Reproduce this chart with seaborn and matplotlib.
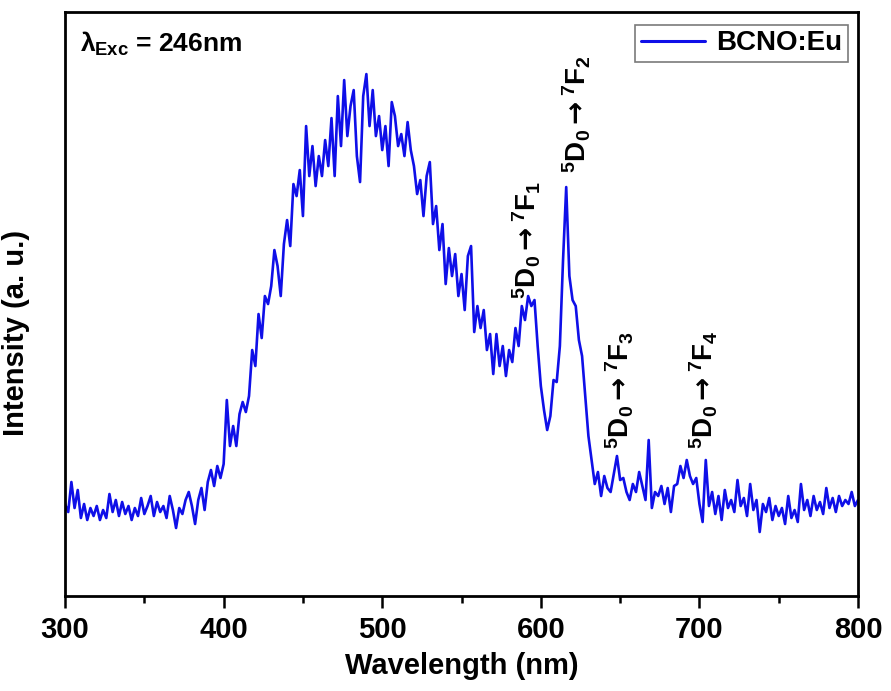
"""
BCNO:Eu photoluminescence emission spectrum (excitation 246 nm).
"""

import numpy as np
import pandas as pd
import matplotlib
matplotlib.use("Agg")
import matplotlib.pyplot as plt
import seaborn as sns

# ── Data (2 nm steps, 300–800 nm) ────────────────────────────────────────────
wavelength = list(range(300, 802, 2))

intensity = [
    # 300–390 baseline
    92, 84, 114, 88, 106, 78, 92, 76, 88, 80,
    90, 76, 86, 78, 102, 84, 96, 80, 94, 82,
    90, 76, 88, 80, 98, 82, 90, 100, 80, 94,
    84, 90, 78, 100, 86, 68, 88, 82, 96, 104,
    90, 72, 96, 108, 86, 114,
    # 392–490 rising edge and broad band maximum
    126, 110, 130, 118, 132, 196, 150, 170, 150, 182,
    194, 184, 200, 246, 230, 282, 258, 300, 292, 310,
    346, 330, 300, 352, 376, 350, 412, 400, 426, 380,
    470, 420, 450, 410, 440, 420, 456, 430, 478, 420,
    500, 450, 516, 460, 490, 506, 440, 414, 500, 522,
    # 492–590 falling side of the band, 5D0-7F1
    470, 506, 460, 480, 446, 470, 430, 494, 480, 450,
    462, 440, 474, 446, 430, 402, 416, 380, 420, 434,
    372, 390, 346, 372, 312, 348, 320, 342, 300, 322,
    286, 340, 350, 264, 290, 268, 286, 246, 262, 222,
    262, 230, 250, 220, 246, 234, 268, 250, 290, 276,
    # 592–690 5D0-7F2 peak and tail
    300, 290, 296, 250, 210, 186, 166, 180, 216, 214,
    250, 336, 409, 320, 296, 290, 256, 240, 200, 160,
    136, 112, 124, 100, 120, 108, 104, 122, 140, 116,
    118, 104, 96, 112, 104, 124, 110, 96, 156, 88,
    104, 100, 110, 92, 108, 84, 110, 112, 130, 118,
    # 692–800 5D0-7F4 and baseline
    136, 120, 112, 118, 92, 74, 136, 90, 104, 82,
    100, 76, 106, 88, 96, 84, 116, 90, 98, 80,
    112, 86, 96, 64, 92, 84, 98, 76, 90, 80,
    88, 72, 100, 78, 86, 74, 112, 86, 96, 80,
    100, 86, 94, 82, 108, 88, 98, 84, 100, 90,
    96, 92, 104, 90, 96,
]

# transition labels and the (wavelength, intensity) where each is centred
ARROW = r"\mathsf{\rightarrow}"
transitions = [r"$^{5}\mathrm{D}_{0}" + ARROW + r"^{7}\mathrm{F}_{%d}$" % k
               for k in (1, 2, 3, 4)]
label_x = [591, 623, 650, 703]
label_y = [356, 482, 206, 206]

df = pd.DataFrame({"wavelength": wavelength, "intensity": intensity})

# ── Style ────────────────────────────────────────────────────────────────────
sns.set_style("white")
plt.rcParams["font.family"] = ["Liberation Sans", "DejaVu Sans"]
plt.rcParams["font.weight"] = "bold"
plt.rcParams["text.color"] = "black"
plt.rcParams["axes.labelcolor"] = "black"
plt.rcParams["xtick.color"] = "black"
plt.rcParams["mathtext.fontset"] = "custom"
plt.rcParams["mathtext.rm"] = "Liberation Sans:bold"
plt.rcParams["mathtext.it"] = "Liberation Sans:bold"
plt.rcParams["mathtext.bf"] = "Liberation Sans:bold"
plt.rcParams["mathtext.sf"] = "DejaVu Sans"

BLUE = "#0f0fe8"

fig = plt.figure(figsize=(8.91, 6.91), dpi=100)
ax = fig.add_axes([0.073, 0.1375, 0.890, 0.845])

sns.lineplot(data=df, x="wavelength", y="intensity", ax=ax, color=BLUE,
             linewidth=1.9, label="BCNO:Eu")

ax.set_xlim(300, 800)
ax.set_ylim(0, 584)
ax.set_xticks(range(300, 801, 100))
ax.set_xticks(range(350, 800, 100), minor=True)
ax.set_yticks([])
ax.tick_params(axis="x", which="major", direction="out", length=8.5,
               width=1.8, labelsize=21, pad=6, bottom=True, colors="black")
ax.tick_params(axis="x", which="minor", direction="out", length=5,
               width=1.8, bottom=True, colors="black")
for lab in ax.get_xticklabels():
    lab.set_fontweight("bold")

for s in ax.spines.values():
    s.set_visible(True)
    s.set_linewidth(2)
    s.set_color("black")

ax.set_xlabel("Wavelength (nm)", fontsize=21, fontweight="bold", labelpad=6)
ax.set_ylabel("Intensity (a. u.)", fontsize=21, fontweight="bold")
ax.yaxis.set_label_coords(-0.044, 0.45)

# excitation wavelength note
ax.text(0.019, 0.932, r"$\lambda_{\mathrm{Exc}}$ = 246nm", transform=ax.transAxes,
        fontsize=19, fontweight="bold", ha="left", va="baseline")

# transition annotations
for txt, x, y in zip(transitions, label_x, label_y):
    ax.text(x, y, txt, rotation=90, fontsize=20, ha="center", va="center")

leg = ax.legend(loc="upper right", bbox_to_anchor=(0.987, 0.978),
                borderaxespad=0, fancybox=False, framealpha=1,
                edgecolor="#7a7a7a", borderpad=0.2, handlelength=2.3,
                handletextpad=0.4, prop={"size": 20, "weight": "bold"})
leg.get_frame().set_linewidth(1.2)
for line in leg.get_lines():
    line.set_linewidth(2.2)

plt.savefig("out.png", dpi=100)
